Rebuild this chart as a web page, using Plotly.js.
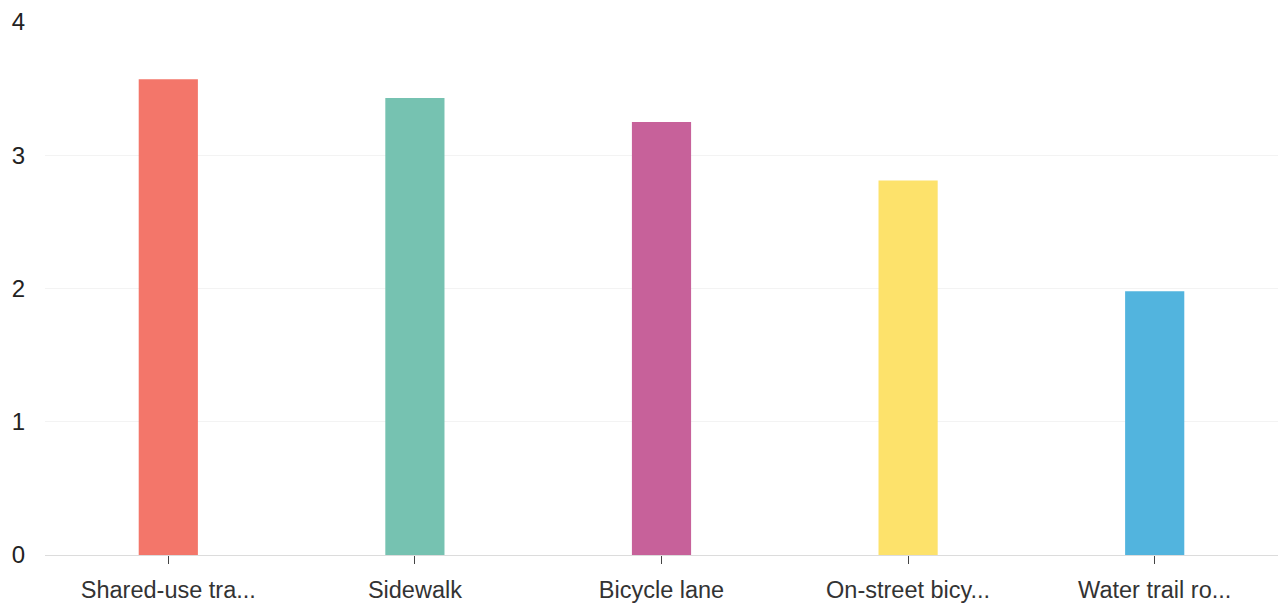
<!DOCTYPE html>
<html>
<head>
<meta charset="utf-8">
<script src="https://cdn.plot.ly/plotly-3.0.1.min.js"></script>
<style>
  html, body { margin: 0; padding: 0; background: #ffffff; }
  #chart { width: 1278px; height: 605px; }
</style>
</head>
<body>
<div id="chart"></div>
<script>
// Facility types and their average ratings
const categories = ['Shared-use tra...', 'Sidewalk', 'Bicycle lane', 'On-street bicy...', 'Water trail ro...'];
const ratings = [3.57, 3.43, 3.25, 2.81, 1.98];
const barColors = ['#f3766a', '#76c2b1', '#c7619a', '#fde26b', '#52b4de'];
const yTicks = [0, 1, 2, 3, 4];

const trace = {
  type: 'bar',
  x: categories,
  y: ratings,
  width: 0.24,
  marker: { color: barColors, line: { width: 0 } },
  hoverinfo: 'x+y'
};

const layout = {
  width: 1278,
  height: 605,
  margin: { l: 45, r: 0, t: 22, b: 50 },
  paper_bgcolor: '#ffffff',
  plot_bgcolor: '#ffffff',
  showlegend: false,
  font: { family: 'Liberation Sans, Arial, sans-serif', size: 24, color: '#333333' },
  xaxis: {
    type: 'category',
    range: [-0.5, 4.5],
    showgrid: false,
    showline: true,
    linecolor: '#dcdcdc',
    linewidth: 1,
    ticks: 'outside',
    ticklen: 8,
    tickwidth: 1,
    tickcolor: '#444444',
    ticklabelstandoff: 6,
    tickfont: { size: 23.5, color: '#333333' },
    zeroline: false
  },
  yaxis: {
    range: [0, 4],
    tickvals: yTicks,
    ticktext: yTicks.map(String),
    showgrid: true,
    gridcolor: '#f3f3f3',
    gridwidth: 1,
    zeroline: false,
    showline: false,
    ticks: '',
    ticklabelstandoff: 19,
    tickfont: { size: 24, color: '#222222' }
  }
};

Plotly.newPlot('chart', [trace], layout, { displayModeBar: false, staticPlot: true });
</script>
</body>
</html>
